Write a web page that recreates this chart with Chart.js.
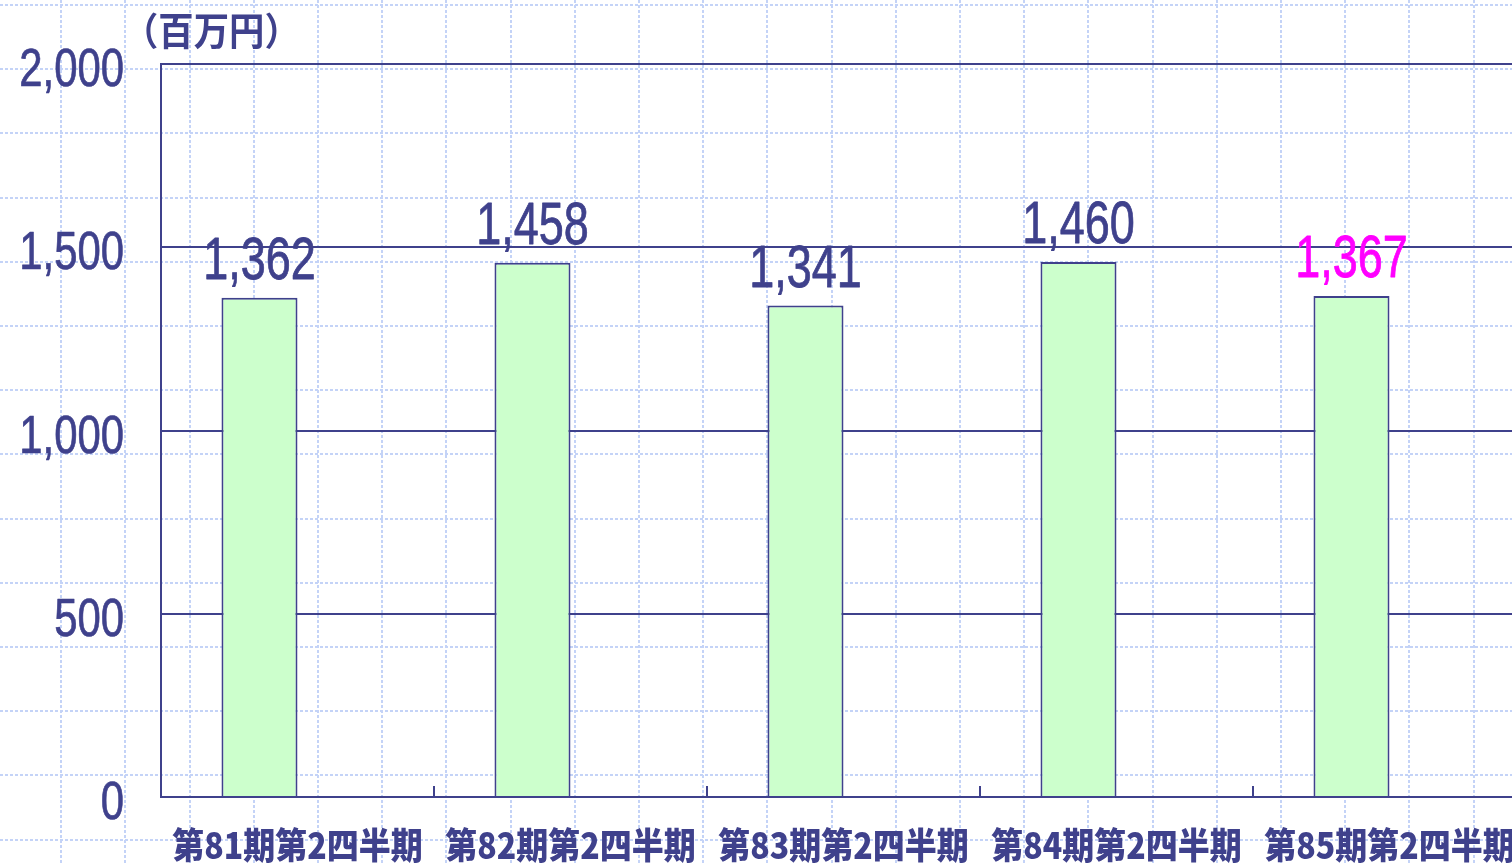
<!DOCTYPE html>
<html lang="ja">
<head>
<meta charset="utf-8">
<title>売上高推移</title>
<script src="https://cdn.jsdelivr.net/npm/chart.js@4/dist/chart.umd.min.js"></script>
<style>
  html, body { margin: 0; padding: 0; overflow: hidden; background: #fff; }
  #wrap { width: 1540px; height: 864px; }
</style>
</head>
<body>
<div id="wrap"><canvas id="salesChart" width="1540" height="864"></canvas></div>
<script>
// data
const periods = ['第81期第2四半期', '第82期第2四半期', '第83期第2四半期', '第84期第2四半期', '第85期第2四半期'];
const sales = [1362, 1458, 1341, 1460, 1367];
const emptySlot = [null, null, null, null, null];
const yTickValues = [0, 500, 1000, 1500, 2000];
const unitLabel = '（百万円）';

const navy = '#3f418c';
const latin = "'Liberation Sans', Arial, sans-serif";
const cjk = "'Noto Sans CJK JP', 'Noto Sans', sans-serif";

// text squeezed/stretched like the original artwork, optional stroke to thicken
function drawText(ctx, text, x, y, sx, sy, thicken) {
    ctx.save();
    ctx.translate(x, y);
    ctx.scale(sx, sy);
    ctx.fillText(text, 0, 0);
    if (thicken) {
        ctx.strokeStyle = ctx.fillStyle;
        ctx.lineWidth = thicken;
        ctx.lineJoin = 'round';
        ctx.strokeText(text, 0, 0);
    }
    ctx.restore();
}

// dotted graph-paper background
const paperBg = {
    id: 'paperBg',
    beforeDraw(chart) {
        const ctx = chart.ctx;
        const w = chart.width, h = chart.height;
        const step = 64.2;
        ctx.save();
        ctx.fillStyle = '#ffffff';
        ctx.fillRect(0, 0, w, h);
        ctx.strokeStyle = '#c4d3f7';
        ctx.lineWidth = 2;
        ctx.setLineDash([3, 2]);
        ctx.beginPath();
        for (let x = -3; x < w; x += step) {
            ctx.moveTo(Math.round(x), 0);
            ctx.lineTo(Math.round(x), h);
        }
        for (let y = 5; y < h; y += step) {
            ctx.moveTo(0, Math.round(y));
            ctx.lineTo(w, Math.round(y));
        }
        ctx.stroke();
        ctx.restore();
    }
};

const extras = {
    id: 'extras',
    beforeDatasetsDraw(chart) {
        const {ctx, chartArea} = chart;
        const n = periods.length;
        const step = (chartArea.right - chartArea.left) / n;
        ctx.save();
        ctx.strokeStyle = navy;
        ctx.lineWidth = 2;
        ctx.beginPath();
        for (let i = 1; i <= n; i++) {
            const x = Math.round(chartArea.left + i * step);
            ctx.moveTo(x, chartArea.bottom);
            ctx.lineTo(x, chartArea.bottom - 11);
        }
        ctx.stroke();
        ctx.restore();
    },
    afterDatasetsDraw(chart) {
        const {ctx, chartArea, scales} = chart;
        const meta = chart.getDatasetMeta(0);
        ctx.save();
        ctx.textAlign = 'center';
        ctx.textBaseline = 'alphabetic';

        // value labels
        ctx.font = '60px ' + latin;
        meta.data.forEach((bar, i) => {
            ctx.fillStyle = i === sales.length - 1 ? '#ff00ff' : navy;
            drawText(ctx, sales[i].toLocaleString('en-US'), bar.x, bar.y - 19, 0.75, 1, 0.8);
        });

        // y tick labels
        ctx.fillStyle = navy;
        ctx.textAlign = 'right';
        ctx.font = '53px ' + latin;
        yTickValues.forEach(v => {
            drawText(ctx, v.toLocaleString('en-US'), chartArea.left - 37, scales.y.getPixelForValue(v) + 22, 0.79, 1, 0.7);
        });

        // category labels
        ctx.textAlign = 'center';
        ctx.font = '900 32px ' + cjk;
        periods.forEach((p, i) => {
            drawText(ctx, p, scales.x.getPixelForValue(i), chartArea.bottom + 62, 1, 1.13);
        });

        // unit
        ctx.textAlign = 'left';
        ctx.font = 'bold 34px ' + cjk;
        drawText(ctx, unitLabel, chartArea.left - 38, chartArea.top - 19, 1.04, 1.12);
        ctx.restore();
    }
};

const ctx = document.getElementById('salesChart').getContext('2d');
const salesChart = new Chart(ctx, {
    type: 'bar',
    data: {
        labels: periods,
        datasets: [{
            label: '売上高',
            data: sales,
            backgroundColor: '#ccffcc',
            borderColor: navy,
            borderWidth: 2
        }, {
            label: '',
            data: emptySlot
        }]
    },
    options: {
        responsive: false,
        animation: false,
        categoryPercentage: 0.557,
        barPercentage: 1.0,
        layout: {
            padding: { top: 64, right: 14, bottom: 0, left: 0 }
        },
        scales: {
            x: {
                grid: { display: false, drawTicks: false },
                border: { display: true, color: navy, width: 2 },
                ticks: { display: false },
                afterFit(scale) { scale.height = 67; }
            },
            y: {
                min: 0,
                max: 2000,
                afterBuildTicks(scale) {
                    scale.ticks = yTickValues.map(v => ({ value: v }));
                },
                grid: { color: navy, lineWidth: 2, drawTicks: false },
                border: { display: true, color: navy, width: 2 },
                ticks: { display: false },
                afterFit(scale) { scale.width = 161; }
            }
        },
        plugins: {
            legend: { display: false },
            tooltip: { enabled: false },
            title: { display: false }
        }
    },
    plugins: [paperBg, extras]
});
</script>
</body>
</html>
